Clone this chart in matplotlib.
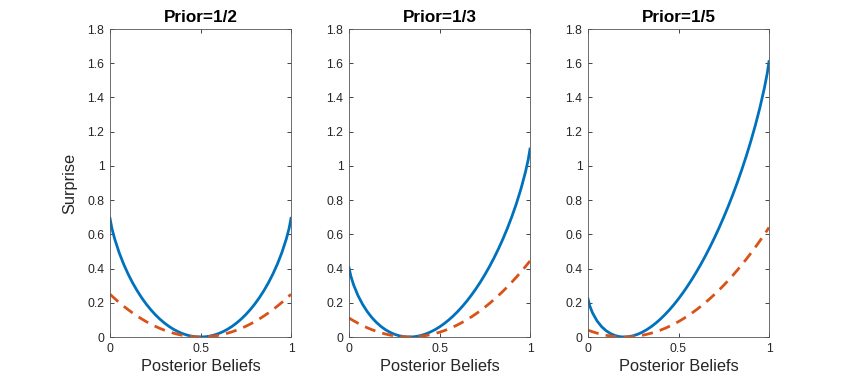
import matplotlib
matplotlib.use("Agg")
import matplotlib.pyplot as plt

plt.rcParams['font.family'] = ['Liberation Sans', 'DejaVu Sans']

posterior = [0, 0.01, 0.025, 0.05, 0.075, 0.1, 0.125, 0.15, 0.175, 0.2, 0.225,
             0.25, 0.275, 0.3, 0.325, 0.35, 0.375, 0.4, 0.425, 0.45, 0.475, 0.5,
             0.525, 0.55, 0.575, 0.6, 0.625, 0.65, 0.675, 0.7, 0.725, 0.75,
             0.775, 0.8, 0.825, 0.85, 0.875, 0.9, 0.925, 0.95, 0.975, 0.99, 1]

titles = ["Prior=1/2", "Prior=1/3", "Prior=1/5"]

solid_half = [0.6931, 0.6371, 0.5762, 0.4946, 0.4268, 0.3681, 0.3164, 0.2705, 0.2294, 0.1927, 0.1600,
              0.1308, 0.1050, 0.0822, 0.0626, 0.0456, 0.0316, 0.0201, 0.0113, 0.0050, 0.0013, 0.0,
              0.0013, 0.0050, 0.0113, 0.0201, 0.0316, 0.0456, 0.0626, 0.0822, 0.1050, 0.1308,
              0.1600, 0.1927, 0.2294, 0.2705, 0.3164, 0.3681, 0.4268, 0.4946, 0.5762, 0.6371, 0.6931]
dashed_half = [0.25, 0.2401, 0.2256, 0.2025, 0.1806, 0.16, 0.1406, 0.1225, 0.1056, 0.09, 0.0756,
               0.0625, 0.0506, 0.04, 0.0306, 0.0225, 0.0156, 0.01, 0.0056, 0.0025, 0.0006, 0.0,
               0.0006, 0.0025, 0.0056, 0.01, 0.0156, 0.0225, 0.0306, 0.04, 0.0506, 0.0625,
               0.0756, 0.09, 0.1056, 0.1225, 0.1406, 0.16, 0.1806, 0.2025, 0.2256, 0.2401, 0.25]

solid_third = [0.4055, 0.3564, 0.3059, 0.2416, 0.1911, 0.1497, 0.1153, 0.0867, 0.0630, 0.0437, 0.0283,
               0.0164, 0.0079, 0.0026, 0.0002, 0.0006, 0.0038, 0.0097, 0.0182, 0.0293, 0.0428, 0.0589,
               0.0775, 0.0986, 0.1222, 0.1484, 0.1771, 0.2086, 0.2428, 0.2798, 0.3198, 0.3630,
               0.4095, 0.4596, 0.5136, 0.5720, 0.6352, 0.7042, 0.7803, 0.8655, 0.9644, 1.0357, 1.0986]
dashed_third = [0.1111, 0.1045, 0.0951, 0.0803, 0.0667, 0.0544, 0.0434, 0.0336, 0.0251, 0.0178, 0.0117,
                0.0069, 0.0034, 0.0011, 0.0001, 0.0003, 0.0017, 0.0044, 0.0084, 0.0136, 0.0201, 0.0278,
                0.0367, 0.0469, 0.0584, 0.0711, 0.0851, 0.1003, 0.1167, 0.1344, 0.1534, 0.1736,
                0.1951, 0.2178, 0.2417, 0.2669, 0.2934, 0.3211, 0.3501, 0.3803, 0.4117, 0.4312, 0.4444]

solid_fifth = [0.2231, 0.1810, 0.1409, 0.0939, 0.0607, 0.0367, 0.0197, 0.0084, 0.0020, 0.0, 0.0019,
               0.0074, 0.0162, 0.0282, 0.0431, 0.0609, 0.0814, 0.1047, 0.1305, 0.1588, 0.1897, 0.2231,
               0.2590, 0.2975, 0.3384, 0.3819, 0.4280, 0.4768, 0.5283, 0.5827, 0.6400, 0.7005,
               0.7644, 0.8318, 0.9031, 0.9788, 1.0594, 1.1457, 1.2391, 1.3416, 1.4579, 1.5396, 1.6094]
dashed_fifth = [0.04, 0.0361, 0.0306, 0.0225, 0.0156, 0.01, 0.0056, 0.0025, 0.0006, 0.0, 0.0006,
                0.0025, 0.0056, 0.01, 0.0156, 0.0225, 0.0306, 0.04, 0.0506, 0.0625, 0.0756, 0.09,
                0.1056, 0.1225, 0.1406, 0.16, 0.1806, 0.2025, 0.2256, 0.25, 0.2756, 0.3025,
                0.3306, 0.36, 0.3906, 0.4225, 0.4556, 0.49, 0.5256, 0.5625, 0.6006, 0.6241, 0.64]

solids = [solid_half, solid_third, solid_fifth]
dasheds = [dashed_half, dashed_third, dashed_fifth]

x_ticks = [0, 0.5, 1]
x_ticklabels = ["0", "0.5", "1"]
y_ticks = [0, 0.2, 0.4, 0.6, 0.8, 1.0, 1.2, 1.4, 1.6, 1.8]
y_ticklabels = ["0", "0.2", "0.4", "0.6", "0.8", "1", "1.2", "1.4", "1.6", "1.8"]

W, H = 850, 378
fig = plt.figure(figsize=(W / 100, H / 100), dpi=100)
lefts = [110, 349, 588]
axw, top, bottom = 181, 29, 337
ink = "#262626"

for i in range(3):
    ax = fig.add_axes([lefts[i] / W, 1 - bottom / H, axw / W, (bottom - top) / H])
    ax.plot(posterior, solids[i], color="#0072BD", lw=2.0)
    ax.plot(posterior, dasheds[i], color="#D95319", lw=2.0, dashes=(4, 2.6))
    ax.set_xlim(0, 1)
    ax.set_ylim(0, 1.8)
    ax.set_xticks(x_ticks)
    ax.set_xticklabels(x_ticklabels)
    ax.set_yticks(y_ticks)
    ax.set_yticklabels(y_ticklabels)
    ax.tick_params(direction="in", top=True, right=True, length=3, width=0.6,
                   colors=ink, labelsize=8.7, pad=4)
    for s in ax.spines.values():
        s.set_color("#555555")
        s.set_linewidth(0.6)
    ax.set_title(titles[i], fontsize=12.3, fontweight="bold", color="black", pad=5)
    ax.set_xlabel("Posterior Beliefs", fontsize=11.8, color=ink, labelpad=3)
    if i == 0:
        ax.set_ylabel("Surprise", fontsize=11.8, color=ink, labelpad=7)

fig.savefig("out.png", dpi=100)
